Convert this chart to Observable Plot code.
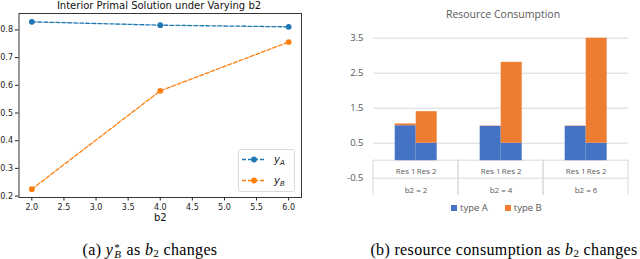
<!DOCTYPE html>
<html><head><meta charset="utf-8">
<script src="https://cdn.jsdelivr.net/npm/d3@7"></script>
<script src="https://cdn.jsdelivr.net/npm/@observablehq/plot@0.6"></script>
<style>
html,body{margin:0;padding:0;background:#fff;width:640px;height:259px;overflow:hidden;position:relative;}
.abs{position:absolute;}
.ltitle{font-family:"DejaVu Sans";font-size:10px;color:#111;left:0;width:318px;text-align:center;top:0px;white-space:nowrap;}
.rtitle{font-family:"Open Sans";font-size:10.5px;color:#595959;left:400px;width:206px;text-align:center;top:7px;white-space:nowrap;}
.cap{font-family:"Liberation Serif","DejaVu Serif",serif;font-size:16px;line-height:16px;letter-spacing:0.35px;color:#000;text-align:center;white-space:nowrap;}
.cap sub{font-size:11px;line-height:0;vertical-align:-2px;}
.ssw{position:relative;display:inline-block;width:9px;height:0;vertical-align:baseline;}
.ssw span{position:absolute;left:1px;font-size:11px;line-height:11px;}
.lg{font-family:"Open Sans";font-size:9.5px;color:#595959;display:flex;align-items:center;white-space:nowrap;}
.sw{display:inline-block;width:6px;height:6px;margin-right:3px;}
</style></head><body>
<div id="left" class="abs" style="left:0;top:0"></div>
<div id="right" class="abs" style="left:320px;top:0"></div>
<div class="abs ltitle">Interior Primal Solution under Varying b2</div>
<div class="abs rtitle">Resource Consumption</div>
<div id="leftLegend" class="abs" style="left:238px;top:149px;"></div>
<div id="rightLegend" class="abs lg" style="left:451px;top:201px;"></div>
<div class="abs cap" style="left:0;width:300px;top:242px;">(a) <i>y</i><span class="ssw"><span style="top:-13px">*</span><span style="top:-6px;font-style:italic">B</span></span> as <i>b</i><sub>2</sub> changes</div>
<div class="abs cap" style="left:364px;width:280px;top:242px;">(b) resource consumption as <i>b</i><sub>2</sub> changes</div>
<script>
// ---- Left chart data ----
const b2Values = [2, 4, 6];
const yA = [0.829, 0.817, 0.811];
const yB = [0.225, 0.580, 0.756];
const seriesNames = ["yA", "yB"];
const seriesColors = ["#1f77b4", "#ff7f0e"];
const leftXTicks = [2.0, 2.5, 3.0, 3.5, 4.0, 4.5, 5.0, 5.5, 6.0];
const leftYTicks = [0.2, 0.3, 0.4, 0.5, 0.6, 0.7, 0.8];

// ---- Right chart data ----
const groups = [2, 4, 6];
const resources = ["Res 1", "Res 2"];
const types = ["type A", "type B"];
const typeColors = ["#4472C4", "#ED7D31"];
const typeA_res1 = [1.00, 0.98, 0.98];
const typeB_res1 = [0.05, 0.01, 0.01];
const typeA_res2 = [0.50, 0.50, 0.50];
const typeB_res2 = [0.90, 2.31, 3.00];
const rightYTicks = [3.5, 2.5, 1.5, 0.5, -0.5];

const lineData = b2Values.flatMap((b, i) => [
  {b2: b, v: yA[i], s: "yA"},
  {b2: b, v: yB[i], s: "yB"}
]);

const left = Plot.plot({
  width: 320, height: 230,
  marginLeft: 18.5, marginRight: 19, marginTop: 13, marginBottom: 33,
  style: {fontFamily: "DejaVu Sans", fontSize: "8px", color: "#222", background: "transparent", overflow: "visible"},
  x: {domain: [1.8, 6.2]},
  y: {domain: [0.1949, 0.8591]},
  color: {domain: seriesNames, range: seriesColors},
  marks: [
    Plot.axisX({ticks: leftXTicks, tickFormat: d3.format(".1f"), tickSize: 3.5, tickPadding: 3, label: null}),
    Plot.axisY({ticks: leftYTicks, tickFormat: d3.format(".1f"), tickSize: 3.5, tickPadding: 2.5, label: null}),
    Plot.text(["b2"], {frameAnchor: "bottom", dy: 23, fontSize: 10, fill: "#111"}),
    Plot.frame({stroke: "#222", strokeWidth: 0.9}),
    Plot.line(lineData, {x: "b2", y: "v", z: "s", stroke: "s", strokeWidth: 1.3, strokeDasharray: "4,2"}),
    Plot.dot(lineData, {x: "b2", y: "v", fill: "s", r: 2.9})
  ]
});
document.getElementById("left").appendChild(left);

// left legend (matplotlib style box)
const lgW = 57, lgH = 43;
const lsvg = d3.create("svg").attr("width", lgW).attr("height", lgH);
lsvg.append("rect").attr("x", 0.5).attr("y", 0.5).attr("width", lgW - 1).attr("height", lgH - 1)
  .attr("rx", 2).attr("fill", "white").attr("stroke", "#d0d0d0").attr("stroke-width", 0.8);
seriesNames.forEach((name, i) => {
  const cy = 10.5 + i * 21;
  lsvg.append("line").attr("x1", 4).attr("x2", 27).attr("y1", cy).attr("y2", cy)
    .attr("stroke", seriesColors[i]).attr("stroke-width", 1.3).attr("stroke-dasharray", "4,2");
  lsvg.append("circle").attr("cx", 16).attr("cy", cy).attr("r", 2.9).attr("fill", seriesColors[i]);
  const t = lsvg.append("text").attr("x", 36).attr("y", cy + 3.5)
    .attr("font-family", "DejaVu Sans").attr("font-size", 10).attr("font-style", "italic").attr("fill", "#111");
  t.append("tspan").text("y");
  t.append("tspan").attr("font-size", 7).attr("dy", 2).text(name.slice(1));
});
document.getElementById("leftLegend").appendChild(lsvg.node());

// right chart
const barData = [];
groups.forEach((g, i) => {
  barData.push({b2: g, res: "Res 1", type: "type A", v: typeA_res1[i]});
  barData.push({b2: g, res: "Res 1", type: "type B", v: typeB_res1[i]});
  barData.push({b2: g, res: "Res 2", type: "type A", v: typeA_res2[i]});
  barData.push({b2: g, res: "Res 2", type: "type B", v: typeB_res2[i]});
});

const right = Plot.plot({
  width: 320, height: 195.2,
  marginLeft: 52.3, marginRight: 11, marginTop: 37.7, marginBottom: 0,
  style: {fontFamily: "Open Sans", fontSize: "9.5px", color: "#595959", overflow: "hidden", background: "transparent"},
  fx: {domain: groups, padding: 0},
  x: {type: "band", domain: resources, paddingInner: 0, paddingOuter: 1},
  y: {domain: [-1, 3.5]},
  color: {domain: types, range: typeColors},
  marks: [
    Plot.gridY(rightYTicks, {stroke: "#d9d9d9", strokeOpacity: 1}),
    Plot.rect(groups, {fx: d => d, y1: -1, y2: 0, stroke: "#d9d9d9", fill: "none", insetBottom: -3}),
    Plot.barY(barData, {fx: "b2", x: "res", y: "v", fill: "type"}),
    Plot.axisY({ticks: rightYTicks, tickSize: 0, tickPadding: 10, tickFormat: d => d.toFixed(1), label: null}),
    Plot.axisX({anchor: "bottom", tickSize: 0, tickPadding: 0, dy: -27, fontSize: 8, label: null}),
    Plot.axisFx({anchor: "bottom", tickSize: 0, tickPadding: 0, dy: -8, fontSize: 8, tickFormat: d => `b2 = ${d}`, label: null})
  ]
});
document.getElementById("right").appendChild(right);

// right legend
const rl = document.getElementById("rightLegend");
types.forEach((t, i) => {
  const item = document.createElement("span");
  item.style.display = "inline-flex"; item.style.alignItems = "center";
  item.style.marginRight = i === 0 ? "17px" : "0";
  const sw = document.createElement("span"); sw.className = "sw"; sw.style.background = typeColors[i];
  const tx = document.createElement("span"); tx.textContent = t;
  item.appendChild(sw); item.appendChild(tx); rl.appendChild(item);
});
</script>
</body></html>
